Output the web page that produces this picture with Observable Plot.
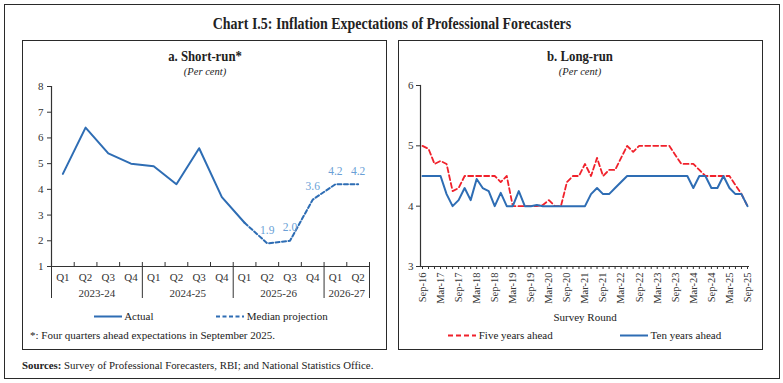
<!DOCTYPE html>
<html><head><meta charset="utf-8">
<script src="https://cdn.jsdelivr.net/npm/d3@7"></script>
<script src="https://cdn.jsdelivr.net/npm/@observablehq/plot@0.6"></script>
<style>
body{margin:0;background:#fff;}
#root{position:relative;width:783px;height:383px;font-family:"Liberation Serif",serif;color:#222;overflow:hidden;}
.box{position:absolute;border:1.5px solid #2a2a2a;box-sizing:border-box;}
.t{position:absolute;white-space:nowrap;line-height:1;}
.c{transform:translate(-50%,-50%);}
.l{transform:translate(0,-50%);}
.plotwrap{position:absolute;}
.plotwrap svg{overflow:visible;}
</style></head><body><div id="root"></div>
<script>
// ---------- data ----------
const quarters = ["Q1","Q2","Q3","Q4","Q1","Q2","Q3","Q4","Q1","Q2","Q3","Q4","Q1","Q2"];
const fiscalYears = ["2023-24","2023-24","2023-24","2023-24","2024-25","2024-25","2024-25","2024-25","2025-26","2025-26","2025-26","2025-26","2026-27","2026-27"];
const actual = [4.6,6.4,5.4,5.0,4.9,4.2,5.6,3.7,2.7,null,null,null,null,null];
const medianProjection = [null,null,null,null,null,null,null,null,2.7,1.9,2.0,3.6,4.2,4.2];
const shortRunTicks = [1,2,3,4,5,6,7,8];

const surveyTickLabels = ["Sep-16","Mar-17","Sep-17","Mar-18","Sep-18","Mar-19","Sep-19","Mar-20","Sep-20","Mar-21","Sep-21","Mar-22","Sep-22","Mar-23","Sep-23","Mar-24","Sep-24","Mar-25","Sep-25"];
const fiveYearsAhead = [5.0,4.95,4.7,4.75,4.7,4.25,4.3,4.5,4.5,4.5,
 4.5,4.5,4.5,4.4,4.5,4.0,4.0,4.0,4.0,4.0,
 4.02,4.1,4.0,4.0,4.4,4.5,4.5,4.7,4.5,4.8,
 4.5,4.6,4.6,4.8,5.0,4.9,5.0,5.0,5.0,5.0,
 5.0,5.0,4.85,4.7,4.7,4.7,4.6,4.5,4.5,4.5,
 4.5,4.5,4.35,4.2,4.0];
const tenYearsAhead = [4.5,4.5,4.5,4.5,4.2,4.0,4.1,4.3,4.1,4.45,
 4.3,4.25,4.0,4.22,4.0,4.0,4.25,4.0,4.0,4.02,
 4.0,4.0,4.0,4.0,4.0,4.0,4.0,4.0,4.2,4.3,
 4.2,4.2,4.3,4.4,4.5,4.5,4.5,4.5,4.5,4.5,
 4.5,4.5,4.5,4.5,4.5,4.3,4.5,4.5,4.3,4.3,
 4.5,4.3,4.2,4.2,4.0];
const longRunTicks = [3,4,5,6];

// ---------- styles ----------
const BLUE = "#2e6db4", LIGHTBLUE = "#6a9fd6", RED = "#f0212b", INK = "#333";
const root = document.getElementById("root");
function add(html){ root.insertAdjacentHTML("beforeend", html); }
const pstyle = {fontFamily:"Liberation Serif, serif", fontSize:"11px", color:INK, background:"transparent", overflow:"visible"};
const intFmt = d3.format("d");

// frames and titles
add(`<div class="box" style="left:4px;top:4px;width:776px;height:375px;border-width:1.6px"></div>`);
add(`<div class="box" style="left:22px;top:40px;width:365px;height:310px"></div>`);
add(`<div class="box" style="left:398px;top:40px;width:365px;height:310px"></div>`);
add(`<div class="t c" style="left:392px;top:23px;font-size:17px;font-weight:bold;"><span style="display:inline-block;transform:scaleX(0.82)">Chart I.5: Inflation Expectations of Professional Forecasters</span></div>`);
add(`<div class="t c" style="left:205px;top:56px;font-size:14.5px;font-weight:bold;"><span style="display:inline-block;transform:scaleX(0.88)">a. Short-run*</span></div>`);
add(`<div class="t c" style="left:205px;top:72px;font-size:10.5px;font-style:italic;">(Per cent)</div>`);
add(`<div class="t c" style="left:580px;top:56px;font-size:14.5px;font-weight:bold;"><span style="display:inline-block;transform:scaleX(0.88)">b. Long-run</span></div>`);
add(`<div class="t c" style="left:580px;top:72px;font-size:10.5px;font-style:italic;">(Per cent)</div>`);
add(`<div class="t l" style="left:22px;top:365px;font-size:10.8px;"><b>Sources:</b> Survey of Professional Forecasters, RBI; and National Statistics Office.</div>`);

// legends
function swatch(color, dash){
  return `<svg width="28" height="6" style="vertical-align:middle"><line x1="0" x2="28" y1="3" y2="3" stroke="${color}" stroke-width="2.2" ${dash?`stroke-dasharray="${dash}"`:""}/></svg>`;
}
add(`<div class="t l" style="left:94px;top:316px;font-size:11px;">${swatch(BLUE)} <span>Actual</span></div>`);
add(`<div class="t l" style="left:216px;top:316px;font-size:11px;">${swatch(BLUE,"4,2.5")} <span>Median projection</span></div>`);
add(`<div class="t l" style="left:30px;top:335px;font-size:11px;">*: Four quarters ahead expectations in September 2025.</div>`);
add(`<div class="t c" style="left:585px;top:317px;font-size:11px;">Survey Round</div>`);
add(`<div class="t l" style="left:448px;top:335px;font-size:11px;">${swatch(RED,"5,3")} <span>Five years ahead</span></div>`);
add(`<div class="t l" style="left:620px;top:335px;font-size:11px;">${swatch(BLUE)} <span>Ten years ahead</span></div>`);

// ---------- left chart ----------
const qData = quarters.map((q,i)=>({i, q, fy:fiscalYears[i], actual:actual[i], proj:medianProjection[i]}));
const groups = d3.groups(qData, d=>d.fy).map(([fy, arr])=>({fy, start:arr[0].i-0.5, end:arr[arr.length-1].i+0.5, mid:d3.mean(arr,d=>d.i)}));
const separators = Array.from(new Set(groups.flatMap(g=>[g.start,g.end])));
const quarterEdges = qData.map(d=>d.i-0.5).concat([qData.length-0.5]);
const xMinA = -0.5, yMinA = shortRunTicks[0];
const frameHA = 180;
const leftPlot = Plot.plot({
  width:365, height:227, marginTop:8, marginBottom:39, marginLeft:29, marginRight:18,
  x:{domain:[xMinA, qData.length-0.5], axis:null},
  y:{domain:[shortRunTicks[0], shortRunTicks[shortRunTicks.length-1]]},
  style:pstyle,
  marks:[
    Plot.axisY({ticks:shortRunTicks, tickFormat:intFmt, tickSize:4, tickPadding:4, label:null, stroke:INK}),
    Plot.ruleX([xMinA], {stroke:INK, strokeWidth:1.2}),
    Plot.ruleY([yMinA], {stroke:INK, strokeWidth:1.2}),
    Plot.ruleX(quarterEdges, {stroke:INK, insetTop:frameHA-4}),
    Plot.ruleX(separators, {stroke:INK, insetTop:frameHA, insetBottom:-32}),
    Plot.text(qData, {x:"i", y:()=>yMinA, text:"q", dy:11, fill:INK}),
    Plot.text(groups, {x:"mid", y:()=>yMinA, text:"fy", dy:27, fill:INK}),
    Plot.line(qData, {x:"i", y:"actual", stroke:BLUE, strokeWidth:2}),
    Plot.line(qData, {x:"i", y:"proj", stroke:BLUE, strokeWidth:2, strokeDasharray:"4,2.5"}),
    Plot.text(qData.filter(d=>d.proj!=null && d.actual==null), {x:"i", y:"proj", text:d=>d.proj.toFixed(1), dy:-13, fill:LIGHTBLUE, fontSize:11.5})
  ]
});
const wa = document.createElement("div"); wa.className="plotwrap"; wa.style.left="22px"; wa.style.top="78px";
wa.appendChild(leftPlot); root.appendChild(wa);

// ---------- right chart ----------
const rData = tenYearsAhead.map((v,i)=>({i, ten:v, five:fiveYearsAhead[i]}));
const step = (rData.length-1)/(surveyTickLabels.length-1);
const labelIdx = surveyTickLabels.map((_,k)=>k*step);
const rightPlot = Plot.plot({
  width:365, height:240, marginTop:7, marginBottom:52, marginLeft:22, marginRight:14,
  x:{domain:[0, rData.length-1], inset:2},
  y:{domain:[longRunTicks[0], longRunTicks[longRunTicks.length-1]]},
  style:pstyle,
  marks:[
    Plot.axisY({ticks:longRunTicks, tickFormat:intFmt, tickSize:4, tickPadding:3, label:null, stroke:INK}),
    Plot.axisX({ticks:rData.map(d=>d.i), tickSize:3, tickFormat:()=>"", label:null, stroke:INK}),
    Plot.axisX({ticks:labelIdx, tickSize:0, tickRotate:-90, tickPadding:6, fontSize:10.5, tickFormat:i=>surveyTickLabels[Math.round(i/step)], label:null}),
    Plot.frame({anchor:"left", stroke:INK, strokeWidth:1.2}),
    Plot.ruleY([longRunTicks[0]], {stroke:INK, strokeWidth:1.2}),
    Plot.line(rData, {x:"i", y:"five", stroke:RED, strokeWidth:1.8, strokeDasharray:"5,3"}),
    Plot.line(rData, {x:"i", y:"ten", stroke:BLUE, strokeWidth:2})
  ]
});
const wb = document.createElement("div"); wb.className="plotwrap"; wb.style.left="398px"; wb.style.top="78px";
wb.appendChild(rightPlot); root.appendChild(wb);
</script></body></html>
